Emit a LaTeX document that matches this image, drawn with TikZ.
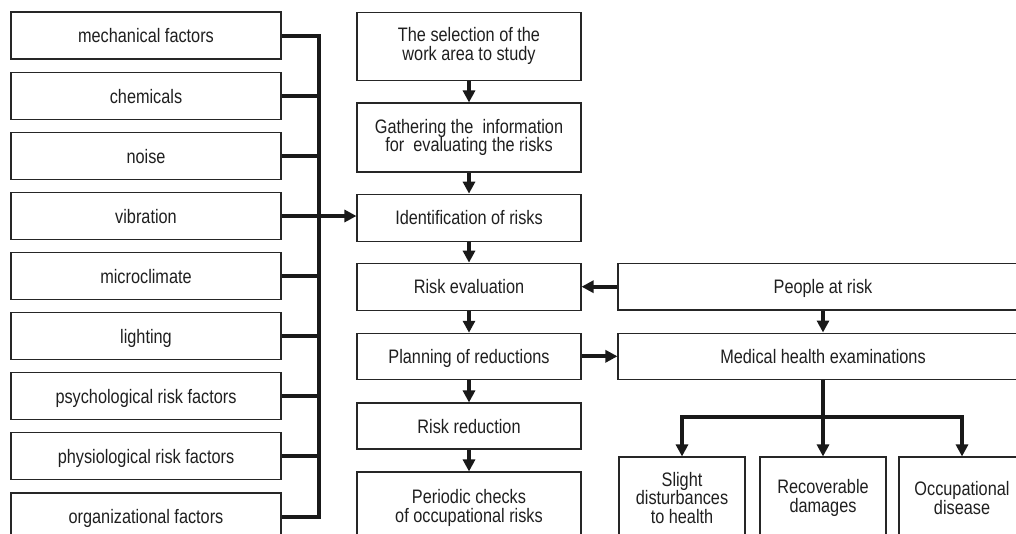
\documentclass[tikz,border=0pt]{standalone}
\usepackage{fontspec}
\setmainfont{Liberation Sans}[FakeStretch=0.835]
\usetikzlibrary{arrows.meta}
\begin{document}
\begin{tikzpicture}[x=1pt,y=-1pt,
  box/.style={draw=black!85,line width=1.1pt,inner sep=0pt,align=center,
    text=black!88,font=\fontsize{19.5}{18.8}\selectfont},
  one/.style={text height=14pt,text depth=0pt},
  lbox/.style={box,one,minimum width=270pt,minimum height=47pt},
  mbox/.style={box,minimum width=224pt},
  rbox/.style={box,minimum width=410pt,minimum height=46.5pt,one},
  bbox/.style={box,minimum width=126pt,minimum height=82pt},
  conn/.style={line width=4pt,draw=black!90},
  arr/.style={conn,-{Triangle[length=12pt,width=12pt]}}]
\useasboundingbox (0,0) rectangle (1016,533);
\clip (0,0) rectangle (1016,533);

% left column
\node[lbox] (mech)  at (146,35.5) {mechanical factors};
\node[lbox] (chem)  at (146,96)   {chemicals};
\node[lbox] (noise) at (146,156)  {noise};
\node[lbox] (vib)   at (146,216)  {vibration};
\node[lbox] (micro) at (146,276)  {microclimate};
\node[lbox] (light) at (146,336)  {lighting};
\node[lbox] (psych) at (146,396)  {psychological risk factors};
\node[lbox] (phys)  at (146,456)  {physiological risk factors};
\node[lbox] (org)   at (146,516.5){organizational factors};

% middle column
\node[mbox,minimum height=68.5pt] (sel)   at (469,46.3)  {The selection of the\\work area to study};
\node[mbox,minimum height=69pt]   (gath)  at (469,137.5) {Gathering the~ information\\for~ evaluating the risks};
\node[mbox,one,minimum height=47pt] (ident) at (469,217.7) {Identification of risks};
\node[mbox,one,minimum height=47pt] (eval)  at (469,286.7) {Risk evaluation};
\node[mbox,one,minimum height=46pt] (plan)  at (469,356.3) {Planning of reductions};
\node[mbox,one,minimum height=46pt] (red)   at (469,426)   {Risk reduction};
\node[mbox,minimum height=72pt]   (per)   at (469,508)   {Periodic checks\\of occupational risks};

% right column
\node[rbox] (people) at (823,286.7) {People at risk};
\node[rbox] (med)    at (823,356.3) {Medical health examinations};
\node[bbox] (slight) at (682,498) {Slight\\disturbances\\to health};
\node[bbox] (recov)  at (823,498) {Recoverable\\damages};
\node[bbox] (occ)    at (962,498) {Occupational\\disease};

% bus on the left
\coordinate (bus) at (319,0);
\draw[conn] (mech.east) -- (mech.east -| bus) -- (org.east -| bus) -- (org.east);
\foreach \n in {chem,noise,micro,light,psych,phys}
  \draw[conn] (\n.east) -- (\n.east -| bus);
\draw[arr] (vib.east) -- (vib.east -| ident.west);

% middle arrows
\draw[arr] (sel.south) -- (gath.north);
\draw[arr] (gath.south) -- (ident.north);
\draw[arr] (ident.south) -- (eval.north);
\draw[arr] (eval.south) -- (plan.north);
\draw[arr] (plan.south) -- (red.north);
\draw[arr] (red.south) -- (per.north);

% right arrows
\draw[arr] (people.west) -- (eval.east);
\draw[arr] (plan.east) -- (med.west);
\draw[arr] (people.south) -- (med.north);
\coordinate (br) at (823,416.7);
\draw[conn] (med.south) -- (br);
\draw[arr] (br) -| (slight.north);
\draw[arr] (br) -| (occ.north);
\draw[arr] (br) -- (recov.north);
\end{tikzpicture}
\end{document}
